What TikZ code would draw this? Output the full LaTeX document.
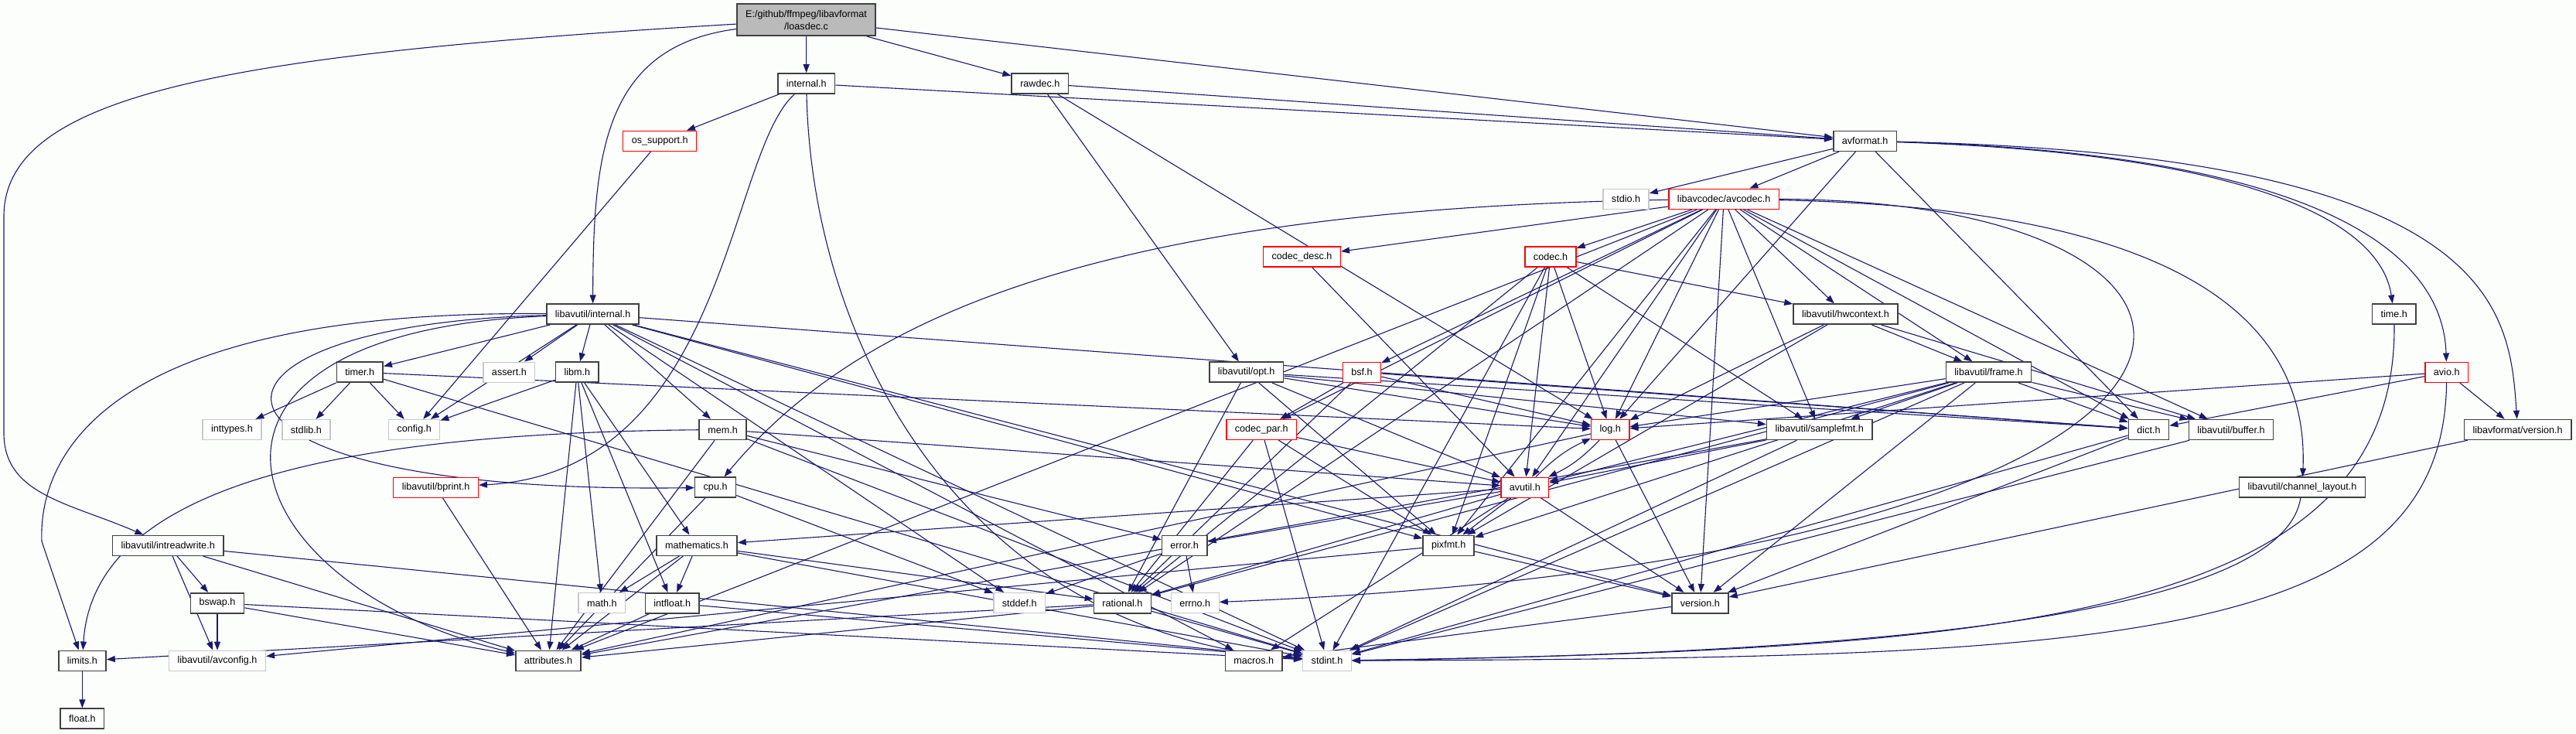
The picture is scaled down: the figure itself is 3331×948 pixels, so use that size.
\documentclass[tikz,border=0pt]{standalone}
\usepackage{fontspec}
\setmainfont{Liberation Sans}
\usetikzlibrary{arrows.meta}
\definecolor{edgeblue}{HTML}{191970}
\definecolor{paper}{HTML}{FCFEFC}
\pgfdeclarelayer{back}
\pgfdeclarelayer{edges}
\pgfsetlayers{back,edges,main}

\begin{document}
\begin{tikzpicture}[x=1pt, y=-1pt,
    hdr/.style={draw=black!75, line width=1.6pt, fill=white, minimum height=26pt,
      inner xsep=11pt, inner ysep=0pt, font=\fontsize{12.6}{14}\selectfont},
    hdrred/.style={hdr, draw=red, line width=1.3pt},
    hdrsys/.style={hdr, draw=black!22, line width=1.3pt},
    hdrroot/.style={hdr, fill=black!27, align=center, minimum height=41pt,
      font=\fontsize{12.6}{16}\selectfont},
    inc/.style={-{Triangle[length=11pt,width=8pt]}, draw=edgeblue, line width=1.1pt}]
  \begin{pgfonlayer}{back}
    \fill[paper] (0,0) rectangle (3331,948);
  \end{pgfonlayer}
  \useasboundingbox (0,0) rectangle (3331,948);

  % top rows
  \node[hdrroot] (loasdec) at (1042.5,25.7) {E:/github/ffmpeg/libavformat\\/loasdec.c};
  \node[hdr] (internal) at (1042.7,108) {internal.h};
  \node[hdr] (rawdec) at (1344.8,108) {rawdec.h};
  \node[hdrred] (ossupport) at (853.2,182.3) {os\_support.h};
  \node[hdr] (avformat) at (2411.6,182.3) {avformat.h};
  \node[hdrsys] (stdio) at (2102.5,257.2) {stdio.h};
  \node[hdrred] (avcodec) at (2229.2,257.2) {libavcodec/avcodec.h};
  \node[hdrred] (codecdesc) at (1683.5,332) {codec\_desc.h};
  \node[hdrred] (codec) at (2005,332) {codec.h};

  % middle rows
  \node[hdr] (lavuinternal) at (766.6,406.2) {libavutil/internal.h};
  \node[hdr] (hwcontext) at (2386.4,406.2) {libavutil/hwcontext.h};
  \node[hdr] (time) at (3095.8,406.2) {time.h};
  \node[hdr] (timer) at (465.3,481.2) {timer.h};
  \node[hdrsys] (assert) at (658.4,481.2) {assert.h};
  \node[hdr] (libm) at (746.3,481.2) {libm.h};
  \node[hdr] (opt) at (1611.7,481.2) {libavutil/opt.h};
  \node[hdrred] (bsf) at (1761,481.2) {bsf.h};
  \node[hdr] (frame) at (2571.5,481.2) {libavutil/frame.h};
  \node[hdrred] (avio) at (3163.7,481.2) {avio.h};
  \node[hdrsys] (inttypes) at (300,555.5) {inttypes.h};
  \node[hdrsys] (stdlib) at (395.9,555.5) {stdlib.h};
  \node[hdrsys] (config) at (535.7,555.5) {config.h};
  \node[hdr] (mem) at (934.5,555.5) {mem.h};
  \node[hdrred] (codecpar) at (1631.2,555.5) {codec\_par.h};
  \node[hdrred] (log) at (2082.2,555.5) {log.h};
  \node[hdr] (samplefmt) at (2352.7,555.5) {libavutil/samplefmt.h};
  \node[hdr] (dict) at (2778.5,555.5) {dict.h};
  \node[hdr] (buffer) at (2885,555.5) {libavutil/buffer.h};
  \node[hdr] (lavfversion) at (3255.6,555.5) {libavformat/version.h};
  \node[hdrred] (bprint) at (563.6,630.2) {libavutil/bprint.h};
  \node[hdr] (cpu) at (925.1,630.2) {cpu.h};
  \node[hdrred] (avutil) at (1971.8,630.2) {avutil.h};
  \node[hdr] (chlayout) at (2977,630.2) {libavutil/channel\_layout.h};

  % bottom rows
  \node[hdr] (intreadwrite) at (217.2,705.3) {libavutil/intreadwrite.h};
  \node[hdr] (mathematics) at (901,705.3) {mathematics.h};
  \node[hdr] (error) at (1531.6,705.3) {error.h};
  \node[hdr] (pixfmt) at (1873.2,705.3) {pixfmt.h};
  \node[hdr] (bswap) at (281,779.7) {bswap.h};
  \node[hdrsys] (math) at (778.4,779.7) {math.h};
  \node[hdr] (intfloat) at (869.2,779.7) {intfloat.h};
  \node[hdrsys] (stddef) at (1318.3,779.7) {stddef.h};
  \node[hdr] (rational) at (1451.4,779.7) {rational.h};
  \node[hdrsys] (errno) at (1545.2,779.7) {errno.h};
  \node[hdr] (version) at (2198.4,779.7) {version.h};
  \node[hdr] (limits) at (106.4,854.3) {limits.h};
  \node[hdrsys] (avconfig) at (281,854.3) {libavutil/avconfig.h};
  \node[hdr] (attributes) at (709,854.3) {attributes.h};
  \node[hdr] (macros) at (1621.3,854.3) {macros.h};
  \node[hdrsys] (stdint) at (1716,854.3) {stdint.h};
  \node[hdr] (floath) at (106.4,929.2) {float.h};

  \begin{pgfonlayer}{edges}
    % straight includes
    \foreach \a/\b in {loasdec/internal, loasdec/rawdec, loasdec/avformat,
        internal/ossupport, internal/avformat,
        rawdec/avformat, rawdec/opt, rawdec/log, ossupport/config,
        avformat/stdio, avformat/avcodec, avformat/log, avformat/dict,
        avcodec/codecdesc, avcodec/codec, avcodec/bsf, avcodec/codecpar, avcodec/log,
        avcodec/avutil, avcodec/samplefmt, avcodec/hwcontext, avcodec/frame, avcodec/dict,
        avcodec/buffer, avcodec/rational, avcodec/pixfmt, avcodec/attributes, avcodec/version,
        lavuinternal/timer, lavuinternal/assert, lavuinternal/libm, lavuinternal/config,
        lavuinternal/mem, lavuinternal/stddef, lavuinternal/macros, lavuinternal/pixfmt,
        lavuinternal/version, lavuinternal/dict, lavuinternal/stdint,
        timer/inttypes, timer/stdlib, timer/config, timer/log, timer/stdint,
        libm/config, libm/attributes, libm/intfloat, libm/mathematics, libm/math,
        mem/attributes, mem/error, mem/avutil, mem/stdint,
        cpu/attributes, cpu/stddef, bprint/attributes,
        intreadwrite/avconfig, intreadwrite/attributes, intreadwrite/bswap, intreadwrite/stdint,
        bswap/avconfig, bswap/attributes, bswap/stdint, limits/floath,
        mathematics/math, mathematics/intfloat, mathematics/attributes,
        mathematics/rational, mathematics/stdint,
        intfloat/attributes, intfloat/stdint, error/stddef, error/errno,
        rational/attributes, rational/stdint, rational/limits,
        avutil/mathematics, avutil/error, avutil/rational, avutil/pixfmt,
        avutil/version, avutil/macros,
        log/version, log/attributes, pixfmt/version, pixfmt/avconfig, version/macros,
        dict/version, dict/stdint, buffer/stdint,
        avio/log, avio/dict, avio/lavfversion, lavfversion/version, codecdesc/avutil,
        codec/hwcontext, codec/samplefmt, codec/log, codec/avutil, codec/pixfmt,
        codec/rational, codec/stdint,
        hwcontext/frame, hwcontext/buffer, hwcontext/log, hwcontext/pixfmt,
        bsf/codecpar, bsf/log, bsf/dict, bsf/rational,
        opt/log, opt/dict, opt/samplefmt, opt/avutil, opt/pixfmt, opt/rational,
        codecpar/avutil, codecpar/pixfmt, codecpar/rational, codecpar/stdint,
        frame/avutil, frame/buffer, frame/dict, frame/rational, frame/samplefmt,
        frame/pixfmt, frame/version, frame/stdint, frame/log,
        samplefmt/avutil, samplefmt/attributes, samplefmt/stdint}
      \draw[inc] (\a) -- (\b);

    % long curved includes
    \draw[inc] (loasdec) .. controls (300,70) and (5,120) .. (5,280)
      -- (5,560) .. controls (5,640) and (90,650) .. (intreadwrite);
    \draw[inc] (loasdec) .. controls (780,60) and (767,200) .. (lavuinternal);
    \draw[inc] (internal) .. controls (940,200) and (940,610) .. (bprint);
    \draw[inc] (internal) .. controls (1050,450) and (1250,820) .. (stdint);
    \draw[inc] (lavuinternal) .. controls (120,400) and (50,600) .. (54,700) -- (limits);
    \draw[inc] (lavuinternal) .. controls (180,430) and (300,760) .. (attributes);
    \draw[inc] (lavuinternal) .. controls (210,420) and (200,640) .. (cpu);
    \draw[inc] (mem) .. controls (400,560) and (120,640) .. (limits);
    \draw[inc] (avcodec) .. controls (1400,270) and (1100,420) .. (cpu);
    \draw[inc] (avcodec) .. controls (3000,260) and (3000,720) .. (errno);
    \draw[inc] (avcodec) .. controls (2850,270) and (2985,430) .. (chlayout);
    \draw[inc] (avformat) .. controls (2950,200) and (3080,300) .. (time);
    \draw[inc] (avformat) .. controls (3050,200) and (3160,350) .. (avio);
    \draw[inc] (avformat) .. controls (3230,200) and (3245,400) .. (lavfversion);
    \draw[inc] (time) .. controls (3100,800) and (2600,840) .. (stdint);
    \draw[inc] (avio) .. controls (3160,840) and (2700,850) .. (stdint);
    \draw[inc] (chlayout) .. controls (2950,800) and (2400,845) .. (stdint);
    \draw[inc] (log) to[bend left=10] (avutil);
    \draw[inc] (avutil) to[bend left=10] (log);
  \end{pgfonlayer}
\end{tikzpicture}
\end{document}
